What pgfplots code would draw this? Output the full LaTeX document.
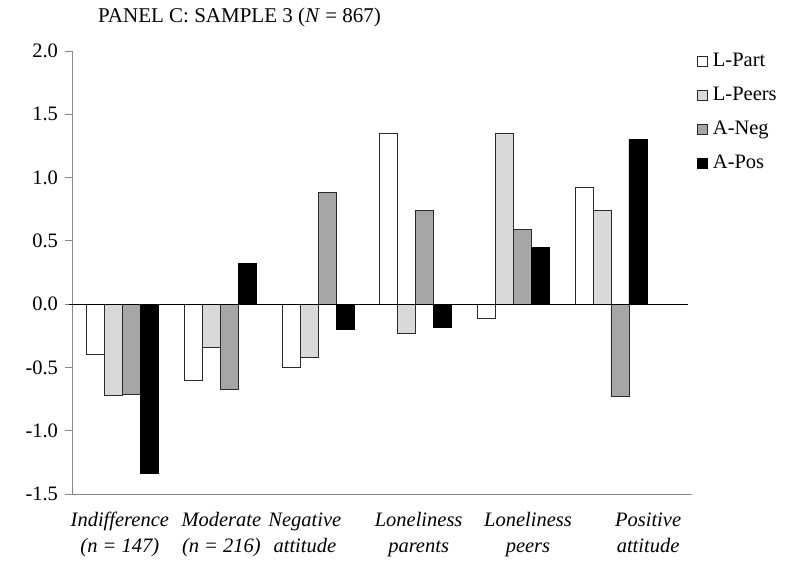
\documentclass[border=0pt]{standalone}
\usepackage{pgfplots}
\usepackage{pgfplotstable}
\pgfplotsset{compat=1.18}
\usepackage{fontspec}
\setmainfont{Liberation Serif}
\definecolor{lpeers}{HTML}{D9D9D9}
\definecolor{aneg}{HTML}{A6A6A6}
\definecolor{edge}{HTML}{2A2A2A}
\definecolor{axgray}{HTML}{868686}

\pgfplotstableread{
x lpart lpeers aneg apos
0 -0.40 -0.72 -0.71 -1.34
1 -0.60 -0.34 -0.67 0.32
2 -0.50 -0.42 0.88 -0.20
3 1.35 -0.23 0.74 -0.18
4 -0.11 1.35 0.59 0.45
5 0.92 0.74 -0.73 1.30
}\data

\begin{document}
\fontsize{20.5}{24}\selectfont
\begin{tikzpicture}
\begin{axis}[
  at={(72pt,77pt)}, anchor=south west,
  scale only axis, width=620pt, height=443pt,
  xmin=-0.52, xmax=5.83, ymin=-1.5, ymax=2.0,
  clip=false,
  ybar=0pt, bar width=18pt,
  axis x line*=bottom, axis y line*=left,
  axis line style={axgray, line width=1pt},
  ytick={-1.5,-1.0,-0.5,0,0.5,1.0,1.5,2.0},
  yticklabel style={/pgf/number format/.cd, fixed, fixed zerofill, precision=1, assume math mode=true},
  tick align=outside, major tick length=7pt,
  ytick style={axgray, line width=1pt},
  xtick={-0.03,1.01,1.865,3.03,4.15,5.38},
  xticklabels={{\strut Indifference\\(n = 147)},{\strut Moderate\\(n = 216)},{\strut Negative\\attitude},{\strut Loneliness\\parents},{\strut Loneliness\\peers},{\strut Positive\\attitude}},
  xticklabel style={align=center, font=\fontsize{20.5}{26}\selectfont\itshape, yshift=0pt},
  xtick style={draw=none},
  title={PANEL C: SAMPLE 3 (\textit{N} = 867)},
  title style={at={(0,1)}, anchor=base west, xshift=26pt, yshift=23pt, inner sep=0pt, font=\fontsize{21}{25}\selectfont},
  legend style={draw=none, fill=none, at={(1.008,1.0)}, anchor=north west, inner sep=0pt,
    row sep=14pt, column sep=4pt, nodes={inner sep=1pt, text height=14pt, text depth=4pt}},
  legend cell align=left,
]
\addplot[fill=white, draw=edge, line width=0.8pt, legend image code/.code={\draw[fill=white, draw=edge, line width=0.8pt] (0pt,-5pt) rectangle (10pt,5pt);}] table[x=x, y=lpart] {\data};
\addlegendentry{L-Part}
\addplot[fill=lpeers, draw=edge, line width=0.8pt, legend image code/.code={\draw[fill=lpeers, draw=edge, line width=0.8pt] (0pt,-5pt) rectangle (10pt,5pt);}] table[x=x, y=lpeers] {\data};
\addlegendentry{L-Peers}
\addplot[fill=aneg, draw=edge, line width=0.8pt, legend image code/.code={\draw[fill=aneg, draw=edge, line width=0.8pt] (0pt,-5pt) rectangle (10pt,5pt);}] table[x=x, y=aneg] {\data};
\addlegendentry{A-Neg}
\addplot[fill=black, draw=black, line width=0.8pt, legend image code/.code={\draw[fill=black, draw=black, line width=0.8pt] (0pt,-5pt) rectangle (10pt,5pt);}] table[x=x, y=apos] {\data};
\addlegendentry{A-Pos}
\draw[black, line width=1pt] (axis cs:-0.55,0) -- (axis cs:5.79,0);
\end{axis}
\pgfresetboundingbox
\path[use as bounding box] (0,0) rectangle (792pt,571pt);
\end{tikzpicture}
\end{document}
